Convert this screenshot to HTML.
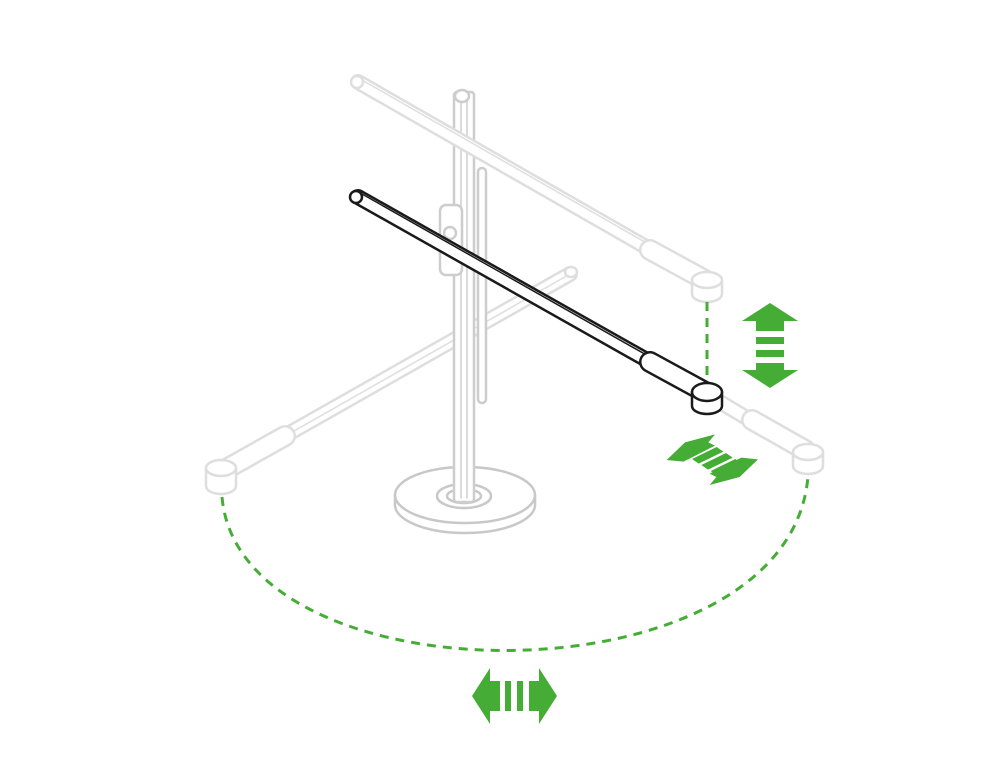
<!DOCTYPE html>
<html><head><style>html,body{margin:0;padding:0;background:#fff}svg{display:block}</style></head>
<body>
<svg width="1006" height="762" viewBox="0 0 1006 762" xmlns="http://www.w3.org/2000/svg">
<g fill="none" stroke-linecap="round" stroke-linejoin="round">
<g stroke="#c8c8c8" stroke-width="2.5">
<path d="M395,495 L395,505 A70,28 0 0 0 535,505 L535,495" fill="#fff"/>
<ellipse cx="465" cy="495" rx="70" ry="28" fill="#fff"/>
<ellipse cx="464" cy="496" rx="27" ry="12"/>
<ellipse cx="464" cy="496" rx="17" ry="7"/>
</g>
<g stroke="#dedede">
<line x1="570" y1="274" x2="228" y2="468" stroke-width="16"/>
<line x1="570" y1="274" x2="228" y2="468" stroke="#fff" stroke-width="11"/>
<line x1="570" y1="274" x2="280" y2="439" stroke-width="1.5"/>
<line x1="285" y1="436" x2="228" y2="468" stroke-width="22"/>
<line x1="285" y1="436" x2="228" y2="468" stroke="#fff" stroke-width="17"/>
<path d="M206,468 L206,486 A15,8 0 0 0 236,486 L236,468" fill="#fff" stroke-width="2.5"/>
<ellipse cx="221" cy="468" rx="15" ry="8" fill="#fff" stroke-width="2.5"/>
<ellipse cx="571" cy="272" rx="6" ry="5" fill="#fff" stroke-width="2.5"/>
</g>
<g stroke="#cdcdcd" stroke-width="2.5">
<rect x="478" y="168" width="8" height="235" rx="4" fill="#fff"/>
<rect x="454" y="92" width="20" height="410" rx="3" fill="#fff"/>
<line x1="461" y1="100" x2="461" y2="498" stroke-width="1.5"/>
<line x1="467" y1="100" x2="467" y2="498" stroke-width="1.5"/>
<ellipse cx="462" cy="96" rx="7" ry="6" fill="#fff"/>
<rect x="440" y="205" width="22" height="70" rx="6" fill="#fff"/>
<circle cx="450" cy="233" r="6" fill="#fff"/>
</g>
<g stroke="#dedede">
<line x1="358" y1="82" x2="700" y2="278" stroke-width="16"/>
<line x1="358" y1="82" x2="700" y2="278" stroke="#fff" stroke-width="11"/>
<line x1="362" y1="80" x2="650" y2="245" stroke-width="1.5"/>
<line x1="650" y1="250" x2="705" y2="280" stroke-width="22"/>
<line x1="650" y1="250" x2="705" y2="280" stroke="#fff" stroke-width="17"/>
<path d="M692,280 L692,294 A15,8 0 0 0 722,294 L722,280" fill="#fff" stroke-width="2.5"/>
<ellipse cx="707" cy="280" rx="15" ry="8" fill="#fff" stroke-width="2.5"/>
<ellipse cx="357" cy="82" rx="6" ry="6" fill="#fff" stroke-width="2.5"/>
</g>
<g stroke="#dedede">
<line x1="720" y1="402" x2="800" y2="450" stroke-width="16"/>
<line x1="720" y1="402" x2="800" y2="450" stroke="#fff" stroke-width="11"/>
<line x1="752" y1="420" x2="805" y2="450" stroke-width="22"/>
<line x1="752" y1="420" x2="805" y2="450" stroke="#fff" stroke-width="17"/>
<path d="M793,452 L793,466 A15,8 0 0 0 823,466 L823,452" fill="#fff" stroke-width="2.5"/>
<ellipse cx="808" cy="452" rx="15" ry="8" fill="#fff" stroke-width="2.5"/>
</g>
<g stroke="#1a1a1a">
<line x1="358" y1="197" x2="700" y2="390" stroke-width="16"/>
<line x1="358" y1="197" x2="700" y2="390" stroke="#fff" stroke-width="11"/>
<line x1="362" y1="194" x2="650" y2="357" stroke-width="1.5"/>
<line x1="650" y1="362" x2="705" y2="392" stroke-width="22"/>
<line x1="650" y1="362" x2="705" y2="392" stroke="#fff" stroke-width="17"/>
<path d="M692,392 L692,406 A15,8 0 0 0 722,406 L722,392" fill="#fff" stroke-width="2.5"/>
<ellipse cx="707" cy="392" rx="15" ry="9" fill="#fff" stroke-width="2.5"/>
<ellipse cx="356" cy="197" rx="6" ry="6" fill="#fff" stroke-width="2.5"/>
</g>
<g stroke="#45ad35" stroke-width="3" stroke-dasharray="9,7" stroke-linecap="butt">
<line x1="707" y1="302" x2="707" y2="378"/>
<path d="M222,497 C240,705 790,705 808,476"/>
</g>
</g>
<g fill="#45ad35">
<polygon points="770,303 798,321 784,321 784,331 756,331 756,321 742,321"/>
<rect x="756" y="337" width="28" height="7"/>
<rect x="756" y="350" width="28" height="7"/>
<polygon points="756,363 784,363 784,370 798,370 770,388 742,370 756,370"/>
<polygon points="472,696 490,668 490,681 500,681 500,711 490,711 490,724"/>
<rect x="505" y="681" width="6" height="30"/>
<rect x="517" y="681" width="6" height="30"/>
<polygon points="557,696 539,668 539,681 529,681 529,711 539,711 539,724"/>
<g transform="translate(660,425) scale(0.3333)">
<polygon points="20,105 75,52 165,28 145,52 165,62 90,100 70,110"/>
<polygon points="96,102 170,66 190,80 116,116"/>
<polygon points="124,120 198,84 218,98 144,134"/>
<polygon points="152,138 226,102 246,116 172,152"/>
<polygon points="294,103 239,156 149,180 169,156 149,146 224,108 244,98"/>
</g>
</g>
</svg>
</body></html>
